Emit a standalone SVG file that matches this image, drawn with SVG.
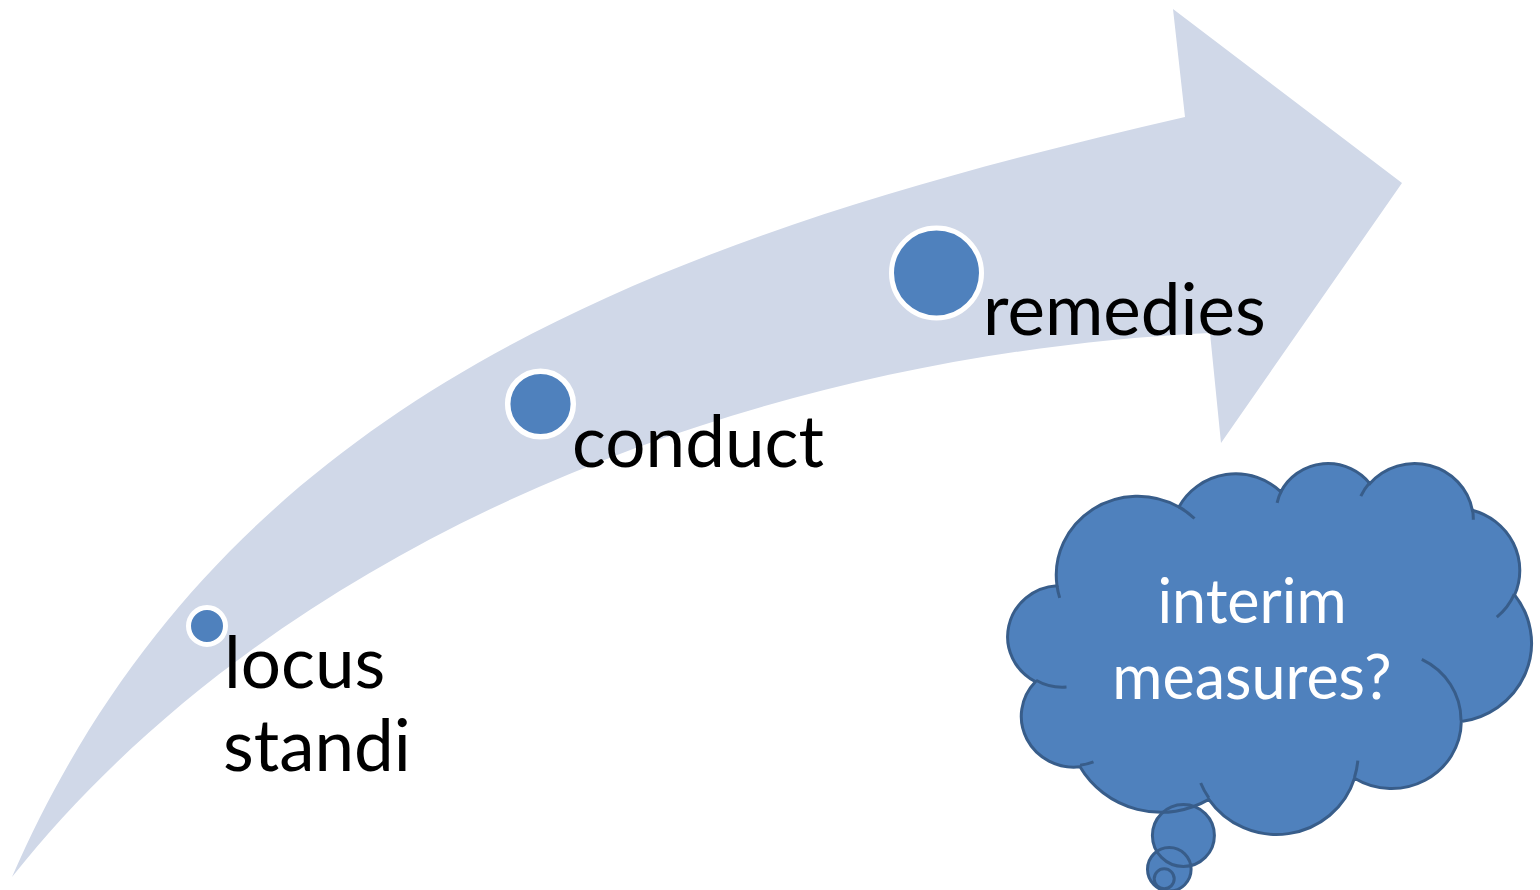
<svg xmlns="http://www.w3.org/2000/svg" xmlns:xlink="http://www.w3.org/1999/xlink" width="1540" height="890" viewBox="0 0 1540 890">
  <style>
    .band { fill: #D0D8E8; }
    .dot { fill: #4F81BD; stroke: #FFFFFF; }
    .label { font-family: Lato, "Liberation Sans", sans-serif; font-size: 71px; fill: #000000; }
    .thought-fill { fill: #4F81BD; stroke: none; }
    .thought-line { fill: none; stroke: #385D8A; stroke-width: 3; }
    .thought-text { font-family: Lato, "Liberation Sans", sans-serif; font-size: 61px; fill: #FFFFFF; text-anchor: middle; }
  </style>
  <defs>
    <!-- eleven-lobe cloud outline -->
    <path id="cloud-outline" d="M1057,585.7 A81.5,78.9 0 0 1 1178.9,507 A64.36,62.39 0 0 1 1280.9,491.8 A52.68,51.04 0 0 1 1369.9,483.6 A58.61,56.62 0 0 1 1472.3,510.2 A64.36,62.44 0 0 1 1514.6,595 A81.76,79.15 0 0 1 1461.3,721.6 A69.81,67.54 0 0 1 1354.5,778.3 A81.48,79.11 0 0 1 1208.8,799.4 A93.16,90.51 0 0 1 1080,766.8 A52.62,50.81 0 0 1 1035.4,681.7 A52.44,51.04 0 0 1 1057,585.7 Z"/>
  </defs>
  <rect width="1540" height="890" fill="#FFFFFF"/>

  <!-- rising curved arrow -->
  <g id="connectors">
    <path class="band" d="M12,877 C220,400 650,240 1185,117 L1173,9 L1402,183 L1221,443 L1210,333 C750,355 280,540 12,877 Z"/>
  </g>

  <!-- steps along the arrow -->
  <g id="node-locus">
    <circle class="dot" cx="207" cy="626" r="18.5" stroke-width="5"/>
    <text class="label" x="224" y="688">locus</text>
    <text class="label" x="223" y="771">standi</text>
  </g>
  <g id="node-conduct">
    <circle class="dot" cx="540.5" cy="404" r="32.8" stroke-width="5.5"/>
    <text class="label" x="572" y="467">conduct</text>
  </g>
  <g id="node-remedies">
    <circle class="dot" cx="936.5" cy="273" r="45" stroke-width="5"/>
    <text class="label" x="983" y="335">remedies</text>
  </g>

  <!-- thought cloud with trailing bubbles -->
  <g id="node-cloud">
    <g class="thought-fill">
      <use xlink:href="#cloud-outline" href="#cloud-outline"/>
      <circle cx="1183.4" cy="835.5" r="31"/>
      <circle cx="1169.3" cy="869.3" r="21.8"/>
      <circle cx="1164.2" cy="878.8" r="10"/>
    </g>
    <g class="thought-line">
      <use xlink:href="#cloud-outline" href="#cloud-outline"/>
      <!-- inner lobe hooks -->
      <path d="M1066.5,687 A52.44,51.04 0 0 1 1036,680.2 M1093.5,761.9 A52.62,50.81 0 0 1 1080.1,765.2 M1208.8,797.9 A81.48,79.11 0 0 1 1200.7,783 M1357.8,760.6 A81.48,79.11 0 0 1 1354.6,777 M1421.8,659.4 A69.81,67.54 0 0 1 1461,720.6 M1514.3,594.1 A64.36,62.44 0 0 1 1496.8,617.1 M1472.4,508.9 A58.61,56.62 0 0 1 1473.3,519.7 M1360.8,496.2 A58.61,56.62 0 0 1 1369.8,482.4 M1277.1,502.8 A52.68,51.04 0 0 1 1281.4,490.9 M1178.9,506.9 A81.5,78.9 0 0 1 1194.5,518.5 M1059.7,597.9 A81.5,78.9 0 0 1 1057,585.7"/>
      <circle cx="1183.4" cy="835.5" r="31"/>
      <circle cx="1169.3" cy="869.3" r="21.8"/>
      <circle cx="1164.2" cy="878.8" r="10"/>
    </g>
    <text class="thought-text" x="1252" y="623">interim</text>
    <text class="thought-text" x="1252" y="699">measures?</text>
  </g>
</svg>
